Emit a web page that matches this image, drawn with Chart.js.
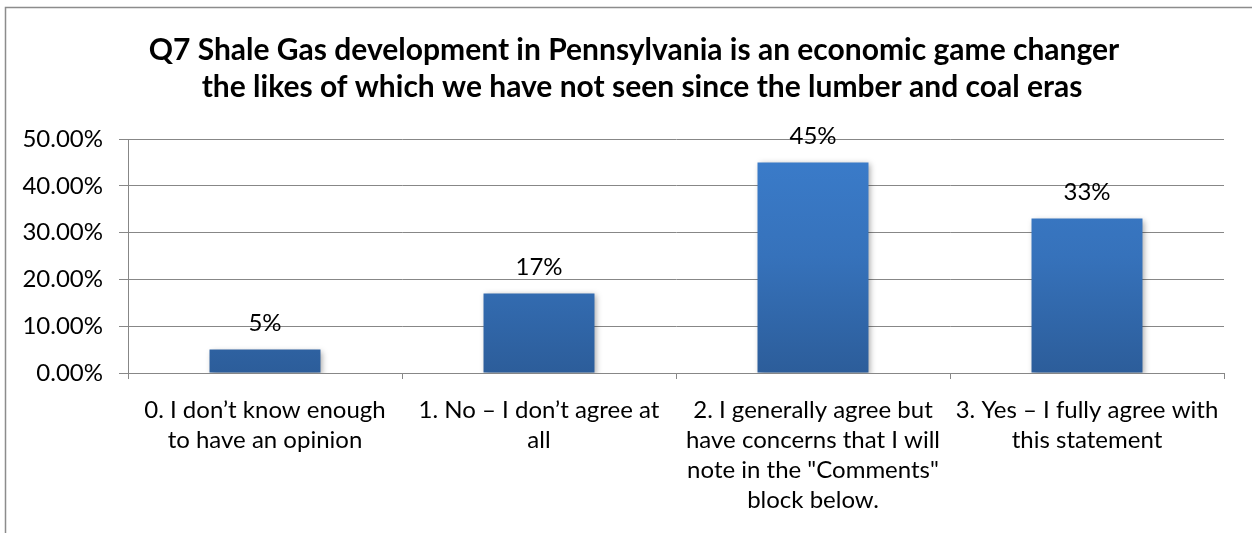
<!DOCTYPE html>
<html>
<head>
<meta charset="utf-8">
<script src="https://cdn.jsdelivr.net/npm/chart.js@4"></script>
<style>
  html, body { margin: 0; padding: 0; background: #ffffff; }
  #wrap { width: 1252px; height: 533px; position: relative; }
</style>
</head>
<body>
<div id="wrap"><canvas id="c" width="1252" height="533"></canvas></div>
<script>
// Survey question and answer shares
const titleLines = [
  'Q7 Shale Gas development in Pennsylvania is an economic game changer',
  'the likes of which we have not seen since the lumber and coal eras'
];
const categories = [
  ['0. I don\u2019t know enough', 'to have an opinion'],
  ['1. No \u2013 I don\u2019t agree at', 'all'],
  ['2. I generally agree but', 'have concerns that I will', 'note in the "Comments"', 'block below.'],
  ['3. Yes \u2013 I fully agree with', 'this statement']
];
const shares = [0.05, 0.17, 0.45, 0.33];
const yTicks = [0, 0.1, 0.2, 0.3, 0.4, 0.5];

const FONT = 'Lato, "Open Sans", sans-serif';
const GRID = '#878787';

// outer frame of the chart box
const framePlugin = {
  id: 'frame',
  beforeDraw(chart) {
    const ctx = chart.ctx;
    ctx.save();
    ctx.fillStyle = '#ffffff';
    ctx.fillRect(0, 0, chart.width, chart.height);
    ctx.strokeStyle = '#8c8c8c';
    ctx.lineWidth = 1.5;
    ctx.strokeRect(5.5, 7.5, chart.width + 20, chart.height + 20);
    ctx.restore();
  }
};

// two-line bold heading
const headingPlugin = {
  id: 'heading',
  afterDraw(chart) {
    const ctx = chart.ctx;
    ctx.save();
    ctx.fillStyle = '#000000';
    ctx.font = 'bold 30px ' + FONT;
    ctx.textAlign = 'center';
    ctx.textBaseline = 'middle';
    titleLines.forEach((t, i) => ctx.fillText(t, 634 + i * 8, 50 + i * 37));
    ctx.restore();
  }
};

// soft shadow behind bars
const shadowPlugin = {
  id: 'barShadow',
  beforeDatasetsDraw(chart) {
    const ctx = chart.ctx;
    ctx.save();
    ctx.shadowColor = 'rgba(0,0,0,0.35)';
    ctx.shadowBlur = 6;
    ctx.shadowOffsetX = 2;
    ctx.shadowOffsetY = 2;
  },
  afterDatasetsDraw(chart) {
    chart.ctx.restore();
  }
};

// percentage labels above each bar
const valueLabelPlugin = {
  id: 'valueLabels',
  afterDatasetsDraw(chart) {
    const ctx = chart.ctx;
    const meta = chart.getDatasetMeta(0);
    ctx.save();
    ctx.fillStyle = '#000000';
    ctx.font = '24px ' + FONT;
    ctx.textAlign = 'center';
    ctx.textBaseline = 'middle';
    meta.data.forEach((bar, i) => {
      const v = chart.data.datasets[0].data[i];
      ctx.fillText(Math.round(v * 100) + '%', bar.x, bar.y - 26);
    });
    ctx.restore();
  }
};

function barGradient(context) {
  const chart = context.chart;
  const area = chart.chartArea;
  if (!area) return '#3a7bc8';
  const el = context.element;
  const top = el && isFinite(el.y) ? el.y : area.top;
  const bottom = chart.scales.y.getPixelForValue(0);
  const g = chart.ctx.createLinearGradient(0, top, 0, bottom);
  g.addColorStop(0, '#3b7dcc');
  g.addColorStop(0.5, '#3672bb');
  g.addColorStop(1, '#2c5d9a');
  return g;
}

new Chart(document.getElementById('c'), {
  type: 'bar',
  data: {
    labels: categories,
    datasets: [{
      data: shares,
      backgroundColor: barGradient,
      borderWidth: 0,
      categoryPercentage: 1,
      barPercentage: 0.405
    }]
  },
  options: {
    responsive: false,
    animation: false,
    devicePixelRatio: 1,
    layout: { padding: { left: 6, top: 139, right: 28, bottom: 0 } },
    plugins: {
      legend: { display: false },
      tooltip: { enabled: false },
      title: { display: false }
    },
    scales: {
      x: {
        offset: true,
        grid: {
          offset: true,
          drawOnChartArea: false,
          color: GRID,
          tickLength: 6,
          lineWidth: 1
        },
        border: { color: GRID, width: 1 },
        ticks: {
          color: '#000000',
          font: { family: FONT, size: 24, lineHeight: 1.25 },
          padding: 16,
          maxRotation: 0,
          autoSkip: false
        },
        afterFit(scale) { scale.height = 533 - 373; }
      },
      y: {
        min: 0,
        max: 0.5,
        afterBuildTicks(scale) { scale.ticks = yTicks.map(v => ({ value: v })); },
        grid: {
          color: GRID,
          tickLength: 9,
          lineWidth: 1
        },
        border: { color: GRID, width: 1 },
        ticks: {
          color: '#000000',
          font: { family: FONT, size: 24 },
          padding: 16,
          callback: v => (v * 100).toFixed(2) + '%'
        },
        afterFit(scale) { scale.width = 128 - 6; }
      }
    }
  },
  plugins: [framePlugin, headingPlugin, shadowPlugin, valueLabelPlugin]
});
</script>
</body>
</html>
